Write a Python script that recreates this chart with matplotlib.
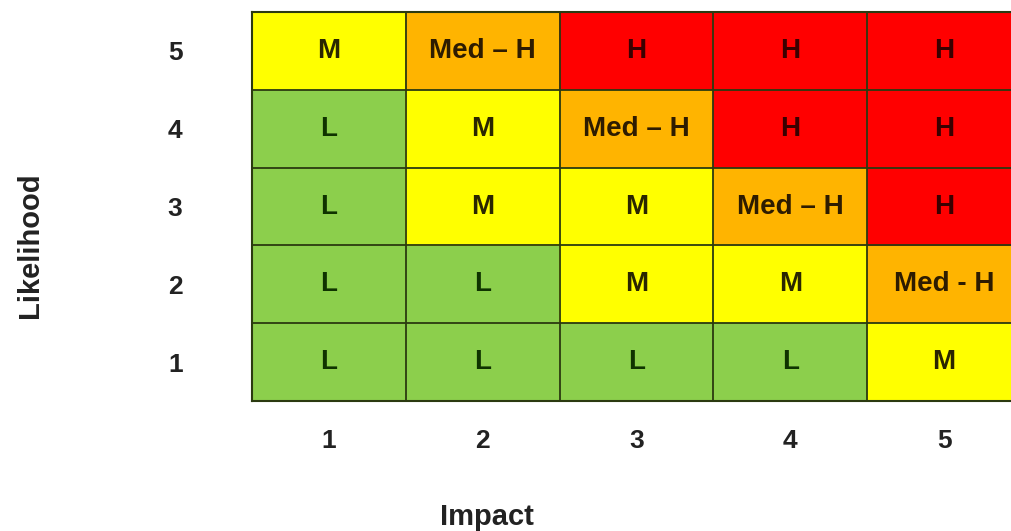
import numpy as np
import matplotlib.pyplot as plt
from matplotlib.colors import ListedColormap

plt.rcParams['font.family'] = ['Liberation Sans', 'DejaVu Sans']

# risk labels, rows = likelihood 1..5 (bottom to top), cols = impact 1..5
impact = [1, 2, 3, 4, 5]
likelihood = [1, 2, 3, 4, 5]
labels = [
    ["L", "L", "L", "L", "M"],
    ["L", "L", "M", "M", "Med - H"],
    ["L", "M", "M", "Med \u2013 H", "H"],
    ["L", "M", "Med \u2013 H", "H", "H"],
    ["M", "Med \u2013 H", "H", "H", "H"],
]
levels = {"L": 0, "M": 1, "Med": 2, "H": 3}
colors = ["#8ccf4c", "#ffff00", "#ffb400", "#ff0000"]
text_cols = ["#0f3300", "#2a2600", "#2e1c00", "#3a0000"]

grid = np.array([[levels[s.split()[0]] for s in row] for row in labels])

fig = plt.figure(figsize=(10.11, 5.31), dpi=100)
ax = fig.add_axes([252/1011, 1-401/531, 769/1011, 389/531])

ax.imshow(grid, cmap=ListedColormap(colors), vmin=-0.5, vmax=3.5,
          origin='lower', aspect='auto',
          extent=[0.5, 5.5, 0.5, 5.5])

for i in range(5):
    for j in range(5):
        ax.text(impact[j], likelihood[i], labels[i][j], ha='center', va='center',
                fontsize=20, fontweight='bold', color=text_cols[grid[i, j]])

# cell borders
for k in np.arange(1.5, 5.5, 1):
    ax.axvline(k, color='#2b3a10', lw=1.3)
    ax.axhline(k, color='#2b3a10', lw=1.3)
for s in ax.spines.values():
    s.set_color('#2b3a10')
    s.set_linewidth(1.5)

ax.set_xlim(0.5, 5.5)
ax.set_ylim(0.5, 5.5)
ax.set_xticks(impact)
ax.set_yticks(likelihood)
ax.set_xticklabels([str(v) for v in impact], fontsize=19, fontweight='bold', color='#222222')
ax.set_yticklabels([str(v) for v in likelihood], fontsize=19, fontweight='bold', color='#222222')
ax.tick_params(axis='x', length=0, pad=20)
ax.tick_params(axis='y', length=0, pad=50)

fig.text(30/1011, 1-245/531, "Likelihood", rotation=90, ha='center', va='center',
         fontsize=21, fontweight='bold', color='#222222')
fig.text(487/1011, 1-517/531, "Impact", ha='center', va='center',
         fontsize=21, fontweight='bold', color='#222222')

fig.savefig("out.png", dpi=100)
